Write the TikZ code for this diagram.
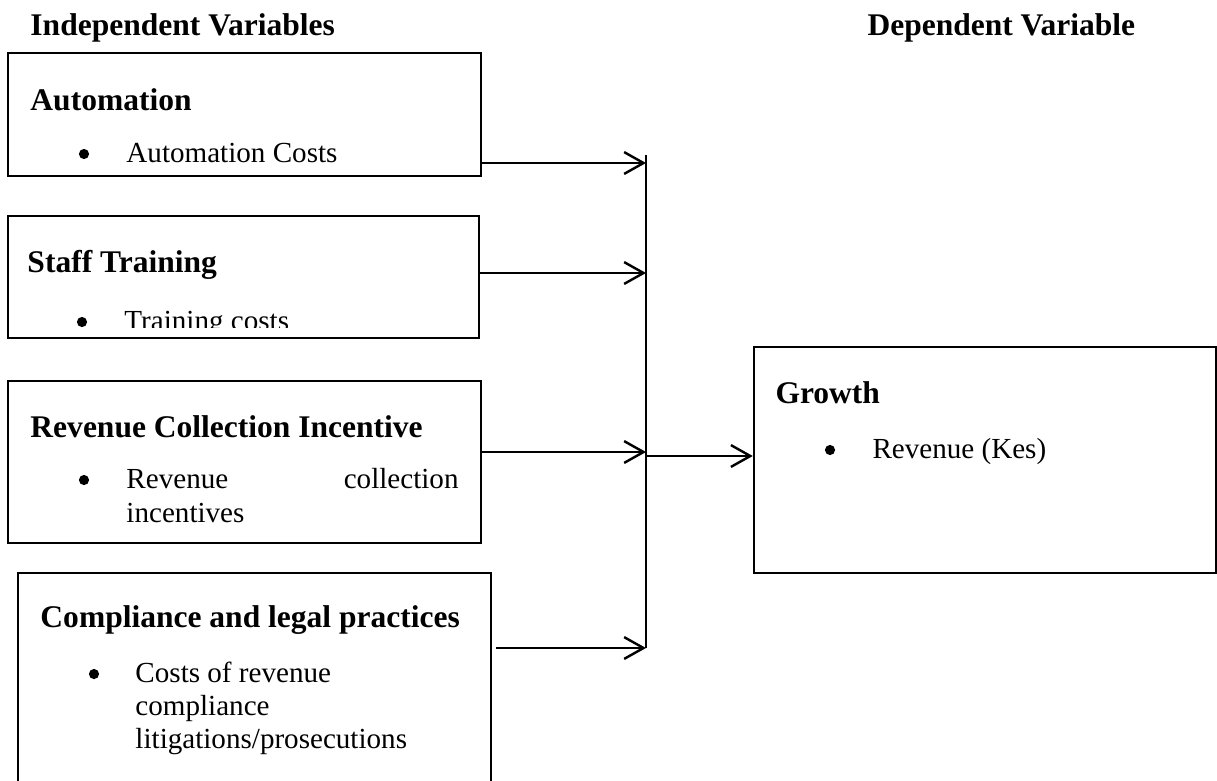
\documentclass[tikz,border=0pt]{standalone}
\usepackage{fontspec}
\setmainfont{Liberation Serif}
\usetikzlibrary{arrows.meta, positioning, fit}

\begin{document}
\begin{tikzpicture}[
  x=0.4124pt, y=-0.4124pt,
  box/.style = {draw, line width=1pt, inner sep=0pt},
  arrow/.style = {line width=1pt, -{Straight Barb[length=8pt, width=9pt]}},
  head/.style = {anchor=base west, inner sep=0pt, font=\fontsize{13}{15}\selectfont\bfseries},
  item/.style = {anchor=base west, inner sep=0pt, font=\fontsize{12}{14}\selectfont},
  dot/.style = {circle, fill, inner sep=0pt, minimum size=4.2pt}
]
  \clip (0,0) rectangle (1217,780);

  % Titles
  \node[head] (indep) at (30,35) {Independent Variables};
  \node[head] (dep) at (867,35) {Dependent Variable};

  % Independent variables
  \node[box, fit={(8,53) (481,176)}] (auto) {};
  \node[head] (autoT) at (30,110) {Automation};
  \node[dot] (autoD) at (84,154) {};
  \node[item] (autoI) at (126,162) {Automation Costs};

  \node[box, fit={(8,216) (479,338)}] (train) {};
  \node[head] (trainT) at (27,272) {Staff Training};
  \begin{scope}
    \clip (0,0) rectangle (1217,327);
    \node[dot] (trainD) at (82,322) {};
    \node[item] (trainI) at (124,330) {Training costs};
  \end{scope}

  \node[box, fit={(8,381) (481,543)}] (incent) {};
  \node[head] (incentT) at (30,437) {Revenue Collection Incentive};
  \node[dot] (incentD) at (84,480) {};
  \node[item] (incentI) at (126,488) {Revenue};
  \node[item, anchor=base east] (incentJ) at (459,488) {collection};
  \node[item] (incentK) at (126,522) {incentives};

  \node[box, fit={(18,573) (491,790)}] (comp) {};
  \node[head] (compT) at (40,627) {Compliance and legal practices};
  \node[dot] (compD) at (94,674) {};
  \node[item] (compI) at (135,682) {Costs of revenue};
  \node[item] (compJ) at (135,715) {compliance};
  \node[item] (compK) at (135,748) {litigations/prosecutions};

  % Dependent variable
  \node[box, fit={(754,347) (1216,573)}] (growth) {};
  \node[head] (growthT) at (775,403) {Growth};
  \node[dot] (growthD) at (830,450) {};
  \node[item] (growthI) at (872,458) {Revenue (Kes)};

  % Connectors
  \coordinate (bustop) at (646,155);
  \coordinate (busbot) at (646,648);
  \coordinate (bus1) at (646,163);
  \coordinate (bus2) at (646,273);
  \coordinate (bus3) at (646,452);
  \coordinate (bus4) at (646,648);
  \coordinate (join) at (646,456);

  \draw[line width=1pt] (bustop) -- (busbot);
  \draw[arrow] (auto.east |- bus1) -- (bus1);
  \draw[arrow] (train.east |- bus2) -- (bus2);
  \draw[arrow] (incent.east |- bus3) -- (bus3);
  \draw[arrow, shorten <=1.6pt] (comp.east |- bus4) -- (bus4);
  \draw[arrow] (join) -- (join -| growth.west);

\end{tikzpicture}
\end{document}
